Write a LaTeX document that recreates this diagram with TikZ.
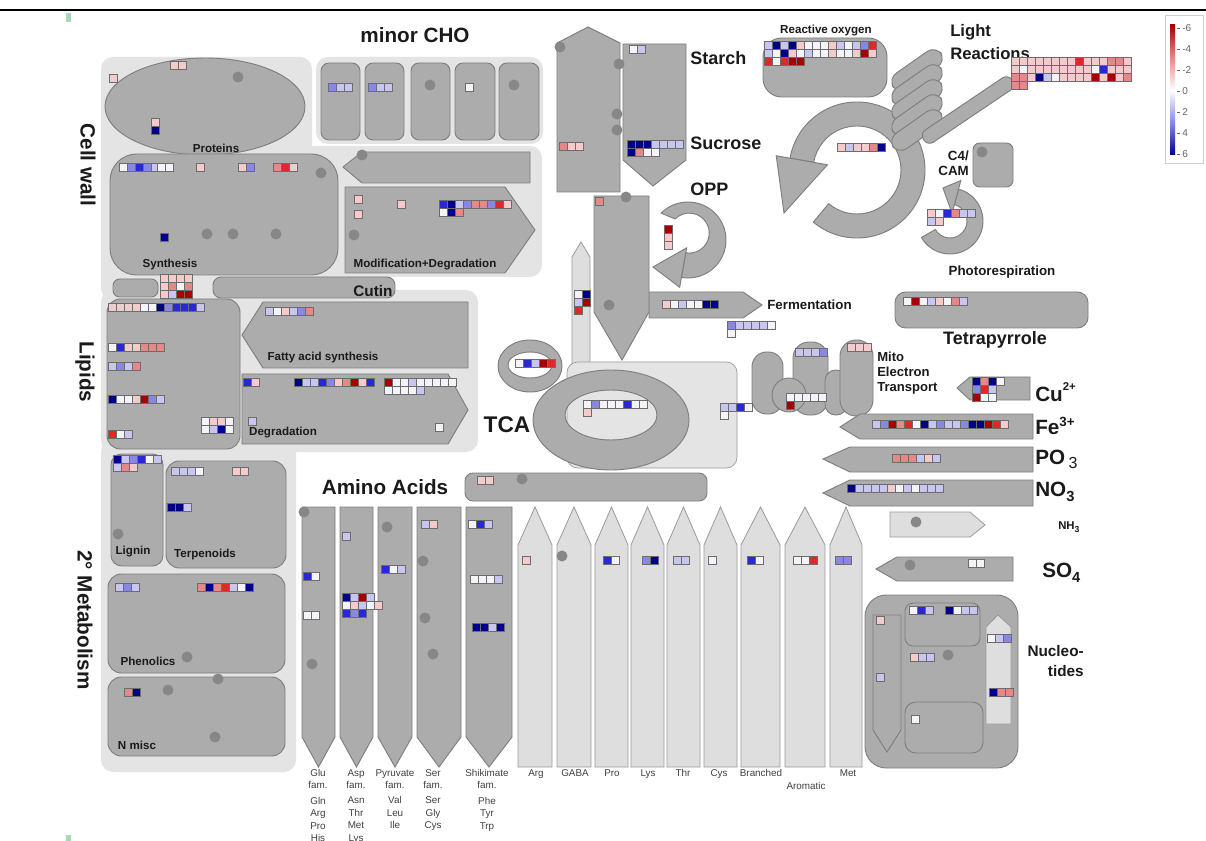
\documentclass[tikz,border=0pt]{standalone}
\usepackage{fontspec}
\setmainfont{Liberation Sans}
\usetikzlibrary{calc}
\definecolor{panelC}{HTML}{E4E4E4}
\definecolor{darkC}{HTML}{ACACAC}
\definecolor{darkE}{HTML}{7E7E7E}
\definecolor{lightC}{HTML}{DEDEDE}
\definecolor{lightE}{HTML}{9A9A9A}
\definecolor{dotC}{HTML}{878787}
\definecolor{frameC}{HTML}{6C6C6C}
\definecolor{txtC}{HTML}{1A1A1A}
\definecolor{smallC}{HTML}{404040}
\definecolor{kw}{HTML}{F3F3FA}
\definecolor{kp}{HTML}{F4CACA}
\definecolor{kq}{HTML}{E68888}
\definecolor{kr}{HTML}{E02828}
\definecolor{kR}{HTML}{A80000}
\definecolor{kl}{HTML}{C6C6F0}
\definecolor{km}{HTML}{8888E4}
\definecolor{kb}{HTML}{2828D8}
\definecolor{kB}{HTML}{00008C}
\definecolor{grn}{HTML}{A8D8B4}
\newcommand\cellrow[3]{\foreach \cc [count=\ii from 0] in {#3}{\fill[frameC] ({#1+\ii*8},{#2}) rectangle ++(9,9); \fill[fill=k\cc] ({#1+\ii*8+1},{#2+1}) rectangle ++(7,7);}}
\newcommand\cellcol[3]{\foreach \cc [count=\ii from 0] in {#3}{\fill[frameC] ({#1},{#2+\ii*8}) rectangle ++(9,9); \fill[fill=k\cc] ({#1+1},{#2+\ii*8+1}) rectangle ++(7,7);}}
\newcommand\fsz[2]{\fontsize{#1}{#2}\selectfont}
\tikzset{
  panel/.style={fill=panelC, draw=none, rounded corners=9pt},
  dark/.style={fill=darkC, draw=darkE, line width=0.7pt},
  light/.style={fill=lightC, draw=lightE, line width=0.6pt},
  big/.style={text=txtC, inner sep=0pt, font=\bfseries\fsz{15.5}{17}},
  mid/.style={text=txtC, inner sep=0pt, font=\bfseries\fsz{13.5}{15}},
  sml/.style={text=txtC, inner sep=0pt, font=\bfseries\fsz{10}{11.5}},
  tiny/.style={text=txtC, inner sep=0pt, font=\bfseries\fsz{8.7}{10}},
  aal/.style={text=smallC, inner sep=0pt, anchor=north, align=center, font=\fsz{7.4}{9.4}},
}
\begin{document}
\begin{tikzpicture}[x=0.75pt,y=-0.75pt]
\clip (0,0) rectangle (1206,841);
\fill[white] (0,0) rectangle (1206,841);
\draw[black, line width=1.3pt] (0,10) -- (1206,10);
\fill[grn] (66,13) rectangle (71,22);
\fill[grn] (66,835) rectangle (71,841);

% ---------- panels ----------
\fill[panel] (101,57) rectangle (312,300);
\fill[panel] (101,146) rectangle (542,277);
\fill[panel] (316,57) rectangle (543,144);
\fill[panel] (101,290) rectangle (478,452);
\fill[panel] (101,440) rectangle (296,772);

% ---------- cell wall ----------
\draw[dark] (205,106.5) ellipse[x radius=100, y radius=48.5];
\draw[dark, rounded corners=20pt] (110,154) rectangle (338,275);
\foreach \a/\b in {321/360,365/404,411/450,455/495,499/539}
  \draw[dark, rounded corners=6pt] (\a,63) rectangle (\b,140);
\draw[dark] (343,167) -- (362,152) -- (530,152) -- (530,183) -- (362,183) -- cycle;
\draw[dark] (345,187) -- (505,187) -- (535,230) -- (505,273) -- (345,273) -- cycle;
\draw[dark, rounded corners=5pt] (113,279) rectangle (158,297);
\draw[dark, rounded corners=6pt] (213,277) rectangle (395,298);

% ---------- lipids ----------
\draw[dark, rounded corners=10pt] (107,299) rectangle (240,449);
\draw[dark] (242,335) -- (263,302) -- (468,302) -- (468,368) -- (263,368) -- cycle;
\draw[dark] (242,374) -- (448,374) -- (468,410) -- (448,444) -- (242,444) -- cycle;

% ---------- secondary metabolism ----------
\draw[dark, rounded corners=8pt] (111,454) rectangle (163,566);
\draw[dark, rounded corners=10pt] (166,461) rectangle (286,568);
\draw[dark, rounded corners=10pt] (108,574) rectangle (285,673);
\draw[dark, rounded corners=10pt] (108,677) rectangle (285,756);

% ---------- amino acids ----------
\draw[dark, rounded corners=6pt] (465,473) rectangle (707,501);
\foreach \a/\b in {302/335,340/373,378/412,417/461,466/512}
  \draw[dark] (\a,507) -- (\b,507) -- (\b,737) -- ({(\a+\b)/2},767) -- (\a,737) -- cycle;
\foreach \a/\b in {518/552,557/591,595/628,631/664,667/700,704/737,741/780,785/825,830/862}
  \draw[light] (\a,767) -- (\a,545) -- ({(\a+\b)/2},507) -- (\b,545) -- (\b,767) -- cycle;

% ---------- carbohydrates / glycolysis ----------
\draw[dark] (557,192) -- (557,43) -- (588,27) -- (620,43) -- (620,192) -- cycle;
\draw[dark] (623,44) -- (686,44) -- (686,160) -- (653,186) -- (623,160) -- cycle;
\draw[light] (572,365) -- (572,257) -- (581,242) -- (590,257) -- (590,365) -- cycle;
\draw[dark] (649,292) -- (743,292) -- (762,305) -- (743,318) -- (649,318) -- cycle;
\draw[dark] (594,196) -- (649,196) -- (649,312) -- (622,360) -- (594,312) -- cycle;
% OPP
\begin{scope}[shift={(688,240)}]
\draw[dark] (225:38) arc[start angle=225, end angle=460, radius=38] -- (100:13)
  arc[start angle=100, end angle=-135, radius=20] -- cycle;
\draw[dark] (100:48) -- (653-688,267-240) -- (100:8) -- cycle;
\end{scope}

% ---------- TCA ----------
\draw[fill=panelC, draw=lightE, line width=0.5pt, rounded corners=8pt] (567,362) rectangle (737,468);
\draw[dark, even odd rule] (611,420) ellipse[x radius=78, y radius=50] (611,415) ellipse[x radius=46, y radius=25];
\draw[dark, even odd rule] (530,366) ellipse[x radius=32, y radius=26] (530,365) ellipse[x radius=22, y radius=13];

% ---------- mito ----------
\draw[dark, rounded corners=11pt] (752,352) rectangle (783,414);
\draw[dark, rounded corners=12pt] (793,342) rectangle (828,415);
\draw[dark, rounded corners=8pt] (825,370) rectangle (847,415);
\draw[dark, rounded corners=12pt] (840,340) rectangle (873,416);
\draw[dark] (789,395) circle[radius=17];

% ---------- photosynthesis ----------
\draw[dark, rounded corners=14pt] (763,38) rectangle (887,97);
\begin{scope}[shift={(857,170)}]
\draw[dark] (190:68) arc[start angle=190, end angle=490, radius=68] -- (490:44)
  arc[start angle=490, end angle=190, radius=44] -- cycle;
\draw[dark] (190:82) -- (784-857,213-170) -- (190:30) -- cycle;
\end{scope}
\foreach \cy in {70,85,100,115,130}
  \node[dark, rounded corners=8pt, minimum width=44pt, minimum height=14pt, rotate=35, inner sep=0pt] at (917,\cy) {};
\node[dark, rounded corners=5pt, minimum width=80pt, minimum height=11pt, rotate=34, inner sep=0pt] (lbar) at (968,110) {};
\draw[dark, rounded corners=5pt] (973,143) rectangle (1013,187);
\begin{scope}[shift={(950,221)}]
\draw[dark] (150:33) arc[start angle=150, end angle=-75, radius=33] -- (-75:17)
  arc[start angle=-75, end angle=150, radius=17] -- cycle;
\draw[dark] (-75:42) -- (943-950,188-221) -- (-75:8) -- cycle;
\end{scope}
\draw[dark, rounded corners=8pt] (895,292) rectangle (1088,328);

% ---------- ions ----------
\draw[dark] (957,388) -- (970,377) -- (1030,377) -- (1030,400) -- (970,400) -- cycle;
\draw[dark] (840,427) -- (860,414) -- (1033,414) -- (1033,439) -- (860,439) -- cycle;
\draw[dark] (823,459) -- (850,447) -- (1033,447) -- (1033,472) -- (850,472) -- cycle;
\draw[dark] (823,493) -- (850,480) -- (1033,480) -- (1033,506) -- (850,506) -- cycle;
\draw[light] (890,512) -- (970,512) -- (985,525) -- (970,537) -- (890,537) -- cycle;
\draw[dark] (876,569) -- (897,557) -- (1013,557) -- (1013,581) -- (897,581) -- cycle;

% ---------- nucleotides ----------
\draw[dark, rounded corners=16pt] (865,595) rectangle (1018,768);
\draw[dark] (873,615) -- (901,615) -- (901,730) -- (887,752) -- (873,730) -- cycle;
\draw[dark, rounded corners=6pt] (905,603) rectangle (980,646);
\draw[dark, rounded corners=8pt] (905,702) rectangle (983,753);
\draw[light] (986,724) -- (986,627) -- (998,615) -- (1011,627) -- (1011,724) -- cycle;

% ---------- legend ----------
\draw[fill=white, draw=black!20, line width=0.5pt] (1165,15) rectangle (1203,163);
\shade[top color=kR, bottom color=white, middle color=kq] (1170,25) rectangle (1175,90);
\shade[top color=white, bottom color=kB, middle color=km] (1170,90) rectangle (1175,155);
\foreach \v/\yy in {-6/28,-4/49,-2/70,0/91,2/112,4/133,6/154}{
  \draw[black!60, line width=0.4pt] (1177,\yy) -- (1180,\yy);
  \node[anchor=west, inner sep=0pt, text=black!60, font=\fsz{7.5}{8}] at (1182,\yy) {\v};}

% ---------- texts ----------
\node[big] (tmcho) at (415,35) {minor CHO};
\node[big, rotate=-90] (tcell) at (88,165) {Cell wall};
\node[big, rotate=-90] (tlip) at (85,372) {Lipids};
\node[big, rotate=-90] (tsec) at (85,620) {2° Metabolism};
\node[tiny] (tprot) at (216,148) {Proteins};
\node[tiny] (tsyn) at (170,265) {Synthesis};
\node[tiny] (tmod) at (425,265) {Modification+Degradation};
\node[text=txtC, inner sep=0pt, font=\bfseries\fsz{11.5}{13}] (tcut) at (373,291) {Cutin};
\node[tiny] (tfas) at (323,358) {Fatty acid synthesis};
\node[tiny] (tdeg) at (283,433) {Degradation};
\node[tiny] (tlig) at (133,552) {Lignin};
\node[tiny] (tter) at (205,554) {Terpenoids};
\node[tiny] (tphe) at (148,661) {Phenolics};
\node[tiny] (tnm) at (137,745) {N misc};
\node[big] (taa) at (385,487) {Amino Acids};
\node[mid, anchor=west] (tsta) at (690,58) {Starch};
\node[mid, anchor=west] (tsuc) at (690,143) {Sucrose};
\node[mid, anchor=west] (topp) at (690,189) {OPP};
\node[sml, anchor=west] (tfer) at (767,305) {Fermentation};
\node[text=txtC, inner sep=0pt, font=\bfseries\fsz{17}{19}] (ttca) at (507,425) {TCA};
\node[sml, anchor=north west, align=left, font=\bfseries\fsz{9.8}{11.3}] (tmito) at (877,352) {Mito\\Electron\\Transport};
\node[tiny] (tros) at (826,31) {Reactive oxygen};
\node[text=txtC, inner sep=0pt, anchor=west, align=left, font=\bfseries\fsz{12.5}{17}] (tlr) at (950,42) {Light\\Reactions};
\node[sml, align=right, anchor=east, font=\bfseries\fsz{10}{11.5}] (tc4) at (969,163) {C4/\\CAM};
\node[sml] (tpr) at (1002,272) {Photorespiration};
\node[mid] (ttet) at (995,340) {Tetrapyrrole};
\node[big, anchor=west] (tcu) at (1035,392) {Cu\raisebox{8pt}{\fsz{8.5}{9}2+}};
\node[big, anchor=west] (tfe) at (1035,426) {Fe\raisebox{6pt}{\fsz{10}{10}3+}};
\node[big, anchor=west] (tpo) at (1035,459) {PO\,\raisebox{-3pt}{\mdseries\fsz{12}{12}3}};
\node[big, anchor=west] (tno) at (1035,492) {NO\raisebox{-4pt}{\fsz{11}{11}3}};
\node[tiny, anchor=west, font=\bfseries\fsz{8.5}{9}] (tnh) at (1058,527) {NH\raisebox{-2pt}{\fsz{6.5}{7}3}};
\node[big, anchor=west] (tso) at (1042,573) {SO\raisebox{-4pt}{\fsz{11}{11}4}};
\node[sml, anchor=east, align=right, font=\bfseries\fsz{11.5}{15.5}] (tnuc) at (1084,661) {Nucleo-\\tides};
% amino labels
\node[aal] (l1) at (318,769) {Glu\\fam.\\[2pt]Gln\\Arg\\Pro\\His};
\node[aal] (l2) at (356,769) {Asp\\fam.\\[2pt]Asn\\Thr\\Met\\Lys};
\node[aal] (l3) at (395,769) {Pyruvate\\fam.\\[2pt]Val\\Leu\\Ile};
\node[aal] (l4) at (433,769) {Ser\\fam.\\[2pt]Ser\\Gly\\Cys};
\node[aal] (l5) at (487,769) {Shikimate\\fam.\\[2pt]Phe\\Tyr\\Trp};
\foreach \t/\xx in {Arg/536,GABA/575,Pro/612,Lys/648,Thr/683,Cys/719,Branched/761,Met/848}
  \node[aal] at (\xx,769) {\t};
\node[aal] (l6) at (806,782) {Aromatic};

% ---------- dots ----------
\foreach \p in {(238,77),(321,173),(207,234),(233,234),(276,234),(430,85),(514,85),(362,155),(354,235),
  (560,47),(619,64),(617,114),(617,130),(626,197),(609,305),(304,512),(522,479),(312,664),(387,527),
  (423,561),(425,618),(433,654),(562,556),(118,534),(187,657),(168,690),(218,679),(215,737),
  (982,152),(916,522),(910,565),(948,655)}
  \fill[dotC] \p circle[radius=5.5];

% ---------- data cells ----------
\cellrow{170}{61}{p,p}
\cellrow{109}{74}{p}
\cellcol{151}{118}{p,B}
\cellrow{119}{163}{w,m,b,m,l}
\cellrow{157}{163}{w,w}
\cellrow{196}{163}{p}
\cellrow{238}{163}{p,m}
\cellrow{273}{163}{q,r,p}
\cellrow{160}{233}{B}
\cellrow{328}{83}{m,l,l}
\cellrow{368}{83}{m,l,l}
\cellrow{465}{83}{w}
\cellrow{354}{195}{p}
\cellrow{354}{210}{p}
\cellrow{397}{200}{p}
\cellrow{439}{200}{b,B,l,m,q,q,m,r,p}
\cellrow{439}{208}{w,B,q}
\cellrow{160}{274}{p,p,p,p}
\cellrow{160}{282}{p,q,w,q}
\cellrow{160}{290}{p,l,R,R}
\cellrow{108}{303}{p,p,p,p,w,w,B,m,b,b,b,l}
\cellrow{108}{343}{w,b,p,p,q,q,q}
\cellrow{108}{362}{l,m,l,q}
\cellrow{108}{395}{B,w,w,p,R,m,l}
\cellrow{108}{430}{r,w,l}
\cellrow{201}{417}{w,p,p,w}
\cellrow{201}{425}{w,l,B,w}
\cellrow{265}{307}{l,w,p,l,m,q}
\cellrow{243}{378}{b,p}
\cellrow{294}{378}{B,l,l,b,m,p,q,R,p,b}
\cellrow{384}{378}{R,w,w,l,w,w,w,w,w}
\cellrow{384}{386}{w,w,w,w,l}
\cellrow{248}{417}{l}
\cellrow{435}{423}{w}
\cellrow{113}{455}{B,l,m,b,w,l}
\cellrow{113}{463}{l,q,p}
\cellrow{171}{467}{l,l,l,w}
\cellrow{232}{467}{p,p}
\cellrow{167}{503}{B,B,l}
\cellrow{115}{583}{l,m,l}
\cellrow{197}{583}{q,B,q,r,l,w,B}
\cellrow{124}{688}{q,B}
\cellrow{477}{476}{p,p}
\cellrow{303}{572}{b,w}
\cellrow{303}{611}{w,w}
\cellrow{342}{532}{l}
\cellrow{342}{593}{B,l,R,l}
\cellrow{342}{601}{w,p,l,w,p}
\cellrow{342}{609}{b,m,b}
\cellrow{381}{565}{b,w,l}
\cellrow{421}{520}{l,p}
\cellrow{468}{520}{w,b,l}
\cellrow{470}{575}{w,w,w,l}
\cellrow{472}{623}{B,B,l,B}
\cellrow{522}{556}{p}
\cellrow{603}{556}{b,w}
\cellrow{642}{556}{m,B}
\cellrow{673}{556}{l,l}
\cellrow{708}{556}{w}
\cellrow{747}{556}{b,w}
\cellrow{793}{556}{w,w,r}
\cellrow{835}{556}{m,m}
\cellrow{629}{45}{w,l}
\cellrow{559}{142}{q,p,p}
\cellrow{627}{140}{B,B,B,l,l,l,l}
\cellrow{627}{148}{B,q,w,w}
\cellrow{595}{197}{q}
\cellcol{664}{225}{R,p,p}
\cellrow{574}{290}{w,B}
\cellrow{574}{298}{l,R}
\cellrow{574}{306}{r}
\cellrow{662}{300}{p,w,l,w,w,B,B}
\cellrow{727}{321}{m,l,l,l,l,w}
\cellrow{727}{329}{w}
\cellrow{515}{359}{w,b,l,R,r}
\cellrow{583}{400}{w,m,w,w,w,b,w,w}
\cellrow{583}{408}{p}
\cellrow{720}{403}{l,l,b,w}
\cellrow{720}{411}{w}
\cellrow{795}{348}{l,l,l,m}
\cellrow{847}{343}{p,p,p}
\cellrow{786}{393}{w,w,w,w,w}
\cellrow{786}{401}{R}
\cellrow{764}{41}{l,B,l,B,p,w,w,w,p,l,w,l,m,r}
\cellrow{764}{49}{l,w,B,p,w,l,w,w,p,w,w,p,R,p}
\cellrow{764}{57}{r,w,r,R,R}
\cellrow{1011}{57}{p,p,p,p,p,p,p,p,r,p,p,p,q,q,p}
\cellrow{1011}{65}{p,w,p,p,p,p,p,p,p,p,w,b,p,p,p}
\cellrow{1011}{73}{q,q,p,B,l,w,p,p,p,p,R,p,R,p,q}
\cellrow{1011}{81}{q,q}
\cellrow{837}{143}{p,l,p,p,q,B}
\cellrow{927}{209}{p,w,b,q,l,l}
\cellrow{927}{217}{l,p}
\cellrow{903}{297}{w,R,w,l,p,w,q,l}
\cellrow{972}{377}{B,q,B,w}
\cellrow{972}{385}{m,r,l}
\cellrow{972}{393}{R,w,w}
\cellrow{872}{420}{l,m,R,q,r,w,B,l,m,l,l,m,B,B,R,r,p}
\cellrow{892}{454}{q,q,q,l,p,l}
\cellrow{847}{484}{B,l,l,l,l,p,w,l,w,l,l,l}
\cellrow{968}{559}{w,w}
\cellrow{876}{616}{p}
\cellrow{876}{673}{l}
\cellrow{909}{606}{w,b,l}
\cellrow{945}{606}{B,w,l,l}
\cellrow{910}{653}{p,l,l}
\cellrow{911}{715}{w}
\cellrow{987}{634}{w,l,m}
\cellrow{989}{688}{B,q,q}
\end{tikzpicture}
\end{document}
